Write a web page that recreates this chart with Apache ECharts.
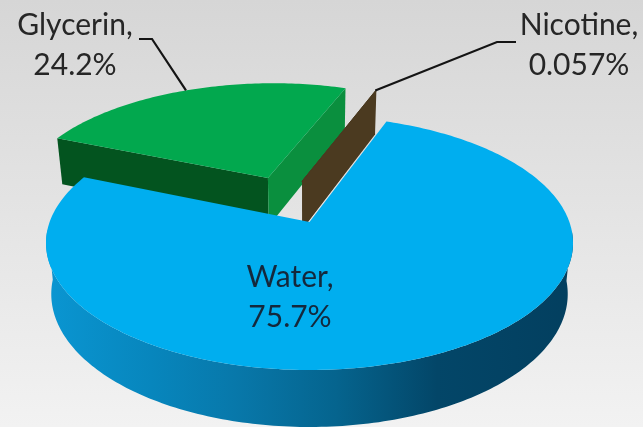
<!DOCTYPE html>
<html>
<head>
<meta charset="utf-8">
<style>html,body{margin:0;padding:0;background:#e4e4e4}#main{width:643px;height:427px}</style>
<script src="https://cdn.jsdelivr.net/npm/echarts@6/dist/echarts.min.js"></script>
</head>
<body>
<div id="main"></div>
<script>
// Composition of the liquid, in percent
const categories = ['Water', 'Glycerin', 'Nicotine'];
const values = [75.7, 24.2, 0.057];
const valueLabels = ['75.7%', '24.2%', '0.057%'];

// Slices are stacked clockwise from this bearing (degrees from 12 o'clock)
const firstSliceBearing = 20;
// Displacement of each slice on the pie's plane, in radii: [sideways, towards viewer]
const sliceOffsets = [[0, 0], [-0.17, -0.379], [-0.03, -0.35]];
const drawOrder = [1, 2, 0];

// Perspective view of the pie disc
const view = { cx: 309.5, cy: 243, rx: 263.5, ry: 127, tilt: 0.165, baseDepth: 51, depthSlope: 6, baseShrink: 0.98 };

const faceColors = [
  { top: '#00aeef' },
  { top: '#02a84e', left: '#03541f', right: '#0a8f3e' },
  { top: '#4b3a20', left: '#4b3a20', right: '#4b3a20' }
];

// Label text centres, and the elbow of each leader line
const labelLayout = [
  { x: 290, y: 297, color: '#14283c' },
  { x: 75, y: 45, color: '#262626', elbow: [[139, 39], [152, 39]], bearing: 336 },
  { x: 579, y: 45, color: '#262626', elbow: [[516, 42], [497, 42]], bearing: 19.7 }
];

const total = values.reduce((a, b) => a + b, 0);
const sliceSpans = [];
values.reduce((start, v) => {
  const end = start + (v / total) * 360;
  sliceSpans.push([start, end]);
  return end;
}, firstSliceBearing);

// Plane coordinates (x right, y towards viewer, unit radius) to screen pixels
function project(x, y, atBase) {
  const c = view.tilt;
  const s = Math.sqrt(1 - c * c);
  const d = 1 - c * y;
  const u = (x * s) / d;
  const v = (y - c) / d;
  let px = view.cx + view.rx * u;
  let py = view.cy + view.ry * v;
  if (atBase) {
    px = view.cx + (px - view.cx) * view.baseShrink;
    py += view.baseDepth + view.depthSlope * v;
  }
  return [px, py];
}

function planePoint(i, bearing, radius) {
  const a = (bearing * Math.PI) / 180;
  const o = sliceOffsets[i];
  return [o[0] + radius * Math.sin(a), o[1] - radius * Math.cos(a)];
}

function rimPoints(i, atBase) {
  const [a, b] = sliceSpans[i];
  const n = Math.max(2, Math.ceil(b - a));
  const pts = [];
  for (let k = 0; k <= n; k++) {
    const p = planePoint(i, a + ((b - a) * k) / n, 1);
    pts.push(project(p[0], p[1], atBase));
  }
  return pts;
}

function wall(i, bearing, fill) {
  const hub = planePoint(i, 0, 0);
  const edge = planePoint(i, bearing, 1);
  return {
    type: 'polygon',
    shape: {
      points: [
        project(hub[0], hub[1], false),
        project(edge[0], edge[1], false),
        project(edge[0], edge[1], true),
        project(hub[0], hub[1], true)
      ]
    },
    style: { fill: fill }
  };
}

function renderSlice(params, api) {
  const i = api.value(0);
  const colors = faceColors[i];
  const [a, b] = sliceSpans[i];
  const children = [];
  if (i === 0) {
    // The outer wall of the main slice, along the front half of the disc
    const top = rimPoints(i, false);
    const base = rimPoints(i, true);
    const keep = top.map((p, k) => k).filter((k) => top[k][1] > view.cy - 14);
    children.push({
      type: 'polygon',
      shape: { points: keep.map((k) => top[k]).concat(keep.map((k) => base[k]).reverse()) },
      style: {
        fill: new echarts.graphic.LinearGradient(45, 0, 575, 0, [
          { offset: 0, color: '#0a96d2' },
          { offset: 0.2, color: '#0786bd' },
          { offset: 0.36, color: '#0878aa' },
          { offset: 0.55, color: '#05648e' },
          { offset: 0.74, color: '#034668' },
          { offset: 1, color: '#033f5f' }
        ], true)
      }
    });
  } else {
    children.push(wall(i, a, colors.left));
    children.push(wall(i, b, colors.right));
  }
  const hub = planePoint(i, 0, 0);
  children.push({
    type: 'polygon',
    shape: { points: [project(hub[0], hub[1], false)].concat(rimPoints(i, false)) },
    style: { fill: colors.top, stroke: colors.top, lineWidth: i === 2 ? 1 : 0 }
  });
  return { type: 'group', children: children };
}

function renderLabel(params, api) {
  const i = api.value(0);
  const layout = labelLayout[i];
  const children = [];
  if (layout.elbow) {
    const p = planePoint(i, layout.bearing, 1);
    children.push({
      type: 'polyline',
      shape: { points: layout.elbow.concat([project(p[0], p[1], false)]) },
      style: { stroke: '#141414', lineWidth: 2.2, fill: null }
    });
  }
  children.push({
    type: 'text',
    style: {
      x: layout.x,
      y: layout.y,
      text: categories[i] + ',\n' + valueLabels[i],
      fill: layout.color,
      font: '30px Lato, "Open Sans", sans-serif',
      lineHeight: 40,
      align: 'center',
      verticalAlign: 'middle'
    }
  });
  return { type: 'group', children: children };
}

const chart = echarts.init(document.getElementById('main'), null, { renderer: 'canvas' });
chart.setOption({
  animation: false,
  backgroundColor: new echarts.graphic.LinearGradient(0, 0, 0, 1, [
    { offset: 0, color: '#d6d6d6' },
    { offset: 1, color: '#f2f2f2' }
  ]),
  series: [
    {
      type: 'custom',
      coordinateSystem: 'none',
      silent: true,
      z: 2,
      renderItem: renderSlice,
      data: drawOrder.map((i) => [i, values[i]])
    },
    {
      type: 'custom',
      coordinateSystem: 'none',
      silent: true,
      z: 3,
      renderItem: renderLabel,
      data: categories.map((name, i) => [i, values[i]])
    }
  ]
});
</script>
</body>
</html>
